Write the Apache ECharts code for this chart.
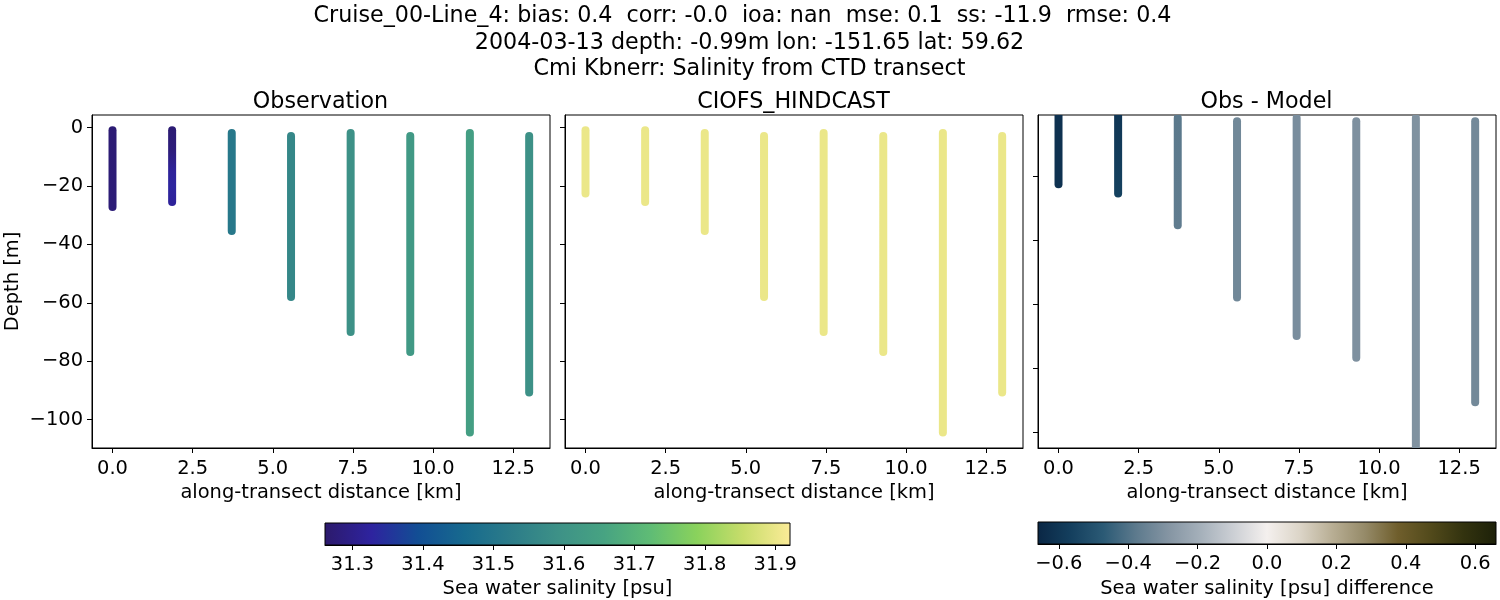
<!DOCTYPE html>
<html><head><meta charset="utf-8">
<style>html,body{margin:0;padding:0;background:#fff}#c{width:1500px;height:600px}</style>
<script src="https://cdn.jsdelivr.net/npm/echarts@6/dist/echarts.min.js"></script>
</head><body><div id="c"></div>
<script>
const suptitleLines = ['Cruise_00-Line_4: bias: 0.4  corr: -0.0  ioa: nan  mse: 0.1  ss: -11.9  rmse: 0.4',
  '2004-03-13 depth: -0.99m lon: -151.65 lat: 59.62',
  'Cmi Kbnerr: Salinity from CTD transect'];
const panelTitles = ['Observation', 'CIOFS_HINDCAST', 'Obs - Model'];
const xTicks = [0, 2.5, 5, 7.5, 10, 12.5];
const yTicks = [0, -20, -40, -60, -80, -100];
const salTicks = [31.3, 31.4, 31.5, 31.6, 31.7, 31.8, 31.9];
const diffTicks = [-0.6, -0.4, -0.2, 0, 0.2, 0.4, 0.6];
const salRange = [31.261, 31.921];
const diffRange = [-0.66, 0.66];
const stationKm = [0, 1.86, 3.72, 5.57, 7.43, 9.29, 11.15, 13.0];

// depth readings for each station: [top, ..., bottom]
const obsDepths = [[-0.9,-27.2],[-0.9,-8,-15,-20,-25.5],[-1.9,-35.4],[-2.9,-58],[-1.9,-70],[-2.9,-76.8],[-1.9,-104.4],[-2.9,-90.7]];
const obsSal = [[31.272,31.275],[31.272,31.28,31.32,31.33,31.32],[31.51,31.51],[31.56,31.56],[31.59,31.59],[31.62,31.62],[31.64,31.64],[31.59,31.59]];
const modelDepths = [[-0.9,-22.6],[-0.9,-25.5],[-1.9,-35.4],[-2.9,-58],[-1.9,-70],[-2.9,-76.8],[-1.9,-104.4],[-2.9,-90.7]];
const modelSal = [[31.9,31.9],[31.9,31.9],[31.9,31.9],[31.9,31.9],[31.9,31.9],[31.9,31.9],[31.9,31.9],[31.9,31.9]];
const diffDepths = modelDepths;
const diffVal = [[-0.62,-0.62],[-0.60,-0.56],[-0.38,-0.37],[-0.33,-0.33],[-0.31,-0.31],[-0.30,-0.30],[-0.295,-0.295],[-0.325,-0.325]];

const halineStops = ['#2c1a6c','#2e239f','#124e94','#176a8e','#2c7c89','#3d9187','#47a382','#5fbc75','#8ad25c','#c8dd6b','#fbeb97'];
const diffStops = ['#0a2745','#143f5e','#2b5a75','#5d7a8d','#8595a3','#a6b1bb','#cdd0d5','#f4f0ee','#dcd5c8','#b8ae94','#958a68','#6f5e2c','#524a1b','#33330f','#1d2109'];

const FONT = 'DejaVu Sans';
const FS = 19.44, TFS = 22.22;
const fmtMinus = s => String(s).replace('-', '\u2212');

function hex(c){return [1,3,5].map(i=>parseInt(c.substr(i,2),16));}
function cmap(stops,t){
  t=Math.max(0,Math.min(1,t));
  const p=t*(stops.length-1), i=Math.min(Math.floor(p),stops.length-2), f=p-i;
  const a=hex(stops[i]),b=hex(stops[i+1]);
  return 'rgb('+a.map((v,k)=>Math.round(v+(b[k]-v)*f)).join(',')+')';
}
const panels = [
  {left:92, yMin:-109.7, yMax:4.3, depths:obsDepths, vals:obsSal, stops:halineStops, range:salRange, labels:true, yt:yTicks},
  {left:565,yMin:-109.7, yMax:4.3, depths:modelDepths, vals:modelSal, stops:halineStops, range:salRange, labels:false, yt:yTicks},
  {left:1038,yMin:-105, yMax:-0.95, depths:diffDepths, vals:diffVal, stops:diffStops, range:diffRange, labels:false, yt:yTicks.slice(1)}
];
const grid=[],xAxis=[],yAxis=[],series=[],title=[];
const txt={fontFamily:FONT,color:'#000'};
suptitleLines.forEach((t,i)=>title.push({text:t,padding:0,left:[742.5,749.5,749.5][i],top:[5,32,58][i],textAlign:'center',textStyle:{...txt,fontSize:TFS,fontWeight:'normal'}}));
panels.forEach((p,i)=>{
  title.push({text:panelTitles[i],padding:0,left:p.left+228.5,top:91,textAlign:'center',textStyle:{...txt,fontSize:TFS,fontWeight:'normal'}});
  grid.push({left:p.left,top:115,width:458,height:333,show:true,borderColor:'#000',borderWidth:1,backgroundColor:'#fff',outerBoundsMode:'none'});
  xAxis.push({type:'value',gridIndex:i,min:-0.64,max:13.65,splitLine:{show:false},
    name:'along-transect distance [km]',nameLocation:'middle',nameGap:35,nameTextStyle:{...txt,fontSize:FS},
    axisLine:{show:true,onZero:false,lineStyle:{color:'#000'}},
    axisTick:{show:true,length:5,customValues:xTicks,lineStyle:{color:'#000'}},
    axisLabel:{show:true,customValues:xTicks,margin:11,formatter:v=>v.toFixed(1),...txt,fontSize:FS}});
  yAxis.push({type:'value',gridIndex:i,min:p.yMin,max:p.yMax,splitLine:{show:false},
    name:p.labels?'Depth [m]':'',nameLocation:'middle',nameGap:70,nameRotate:90,nameTextStyle:{...txt,fontSize:FS},
    axisLine:{show:true,onZero:false,lineStyle:{color:'#000'}},
    axisTick:{show:true,length:5,customValues:p.yt,lineStyle:{color:'#000'}},
    axisLabel:{show:p.labels,customValues:p.yt,margin:9,padding:[3,0,0,0],formatter:v=>fmtMinus(v),...txt,fontSize:FS}});
  const norm=v=>(v-p.range[0])/(p.range[1]-p.range[0]);
  series.push({type:'custom',xAxisIndex:i,yAxisIndex:i,silent:true,animation:false,clip:true,
    encode:{x:0,y:[1,2]},
    data:stationKm.map((km,s)=>[km,p.depths[s][0],p.depths[s][p.depths[s].length-1],s]),
    renderItem:(params,api)=>{
      const s=api.value(3), ds=p.depths[s], vs=p.vals[s], top=ds[0], bot=ds[ds.length-1];
      const a=api.coord([api.value(0),top]), b=api.coord([api.value(0),bot]);
      return {type:'line',shape:{x1:a[0],y1:a[1],x2:b[0],y2:b[1]},
        style:{lineWidth:8,lineCap:'round',fill:null,
          stroke:new echarts.graphic.LinearGradient(0,a[1],0,b[1],ds.map((d,k)=>({offset:(top-d)/(top-bot),color:cmap(p.stops,norm(vs[k]))})),true)}};
    }});
});
// colorbars
const bars=[
  {left:325,width:465,top:523,height:22,gap:34,range:salRange,ticks:salTicks,stops:halineStops,name:'Sea water salinity [psu]',fmt:v=>v.toFixed(1)},
  {left:1038,width:458,top:522,height:22,gap:35,range:diffRange,ticks:diffTicks,stops:diffStops,name:'Sea water salinity [psu] difference',fmt:v=>fmtMinus(v.toFixed(1))}
];
bars.forEach((b,k)=>{
  const i=3+k;
  grid.push({left:b.left,top:b.top,width:b.width,height:b.height,show:true,borderColor:'#000',borderWidth:1,z:3,outerBoundsMode:'none'});
  xAxis.push({type:'value',gridIndex:i,min:b.range[0],max:b.range[1],splitLine:{show:false},
    name:b.name,nameLocation:'middle',nameGap:b.gap,nameTextStyle:{...txt,fontSize:FS},
    axisLine:{show:true,lineStyle:{color:'#000'}},
    axisTick:{show:true,length:5,customValues:b.ticks,lineStyle:{color:'#000'}},
    axisLabel:{show:true,customValues:b.ticks,margin:10,formatter:b.fmt,...txt,fontSize:FS}});
  yAxis.push({type:'value',gridIndex:i,min:0,max:1,show:false});
  series.push({type:'custom',xAxisIndex:i,yAxisIndex:i,silent:true,animation:false,
    data:[[b.range[0],b.range[1]]],
    renderItem:(params,api)=>{
      const a=api.coord([api.value(0),1]), c=api.coord([api.value(1),0]);
      return {type:'rect',shape:{x:a[0],y:a[1],width:c[0]-a[0],height:c[1]-a[1]},
        style:{fill:new echarts.graphic.LinearGradient(0,0,1,0,b.stops.map((s,j)=>({offset:j/(b.stops.length-1),color:s})))}};
    }});
});
const chart=echarts.init(document.getElementById('c'),null,{renderer:'canvas'});
chart.setOption({animation:false,backgroundColor:'#fff',title,grid,xAxis,yAxis,series});
</script></body></html>
